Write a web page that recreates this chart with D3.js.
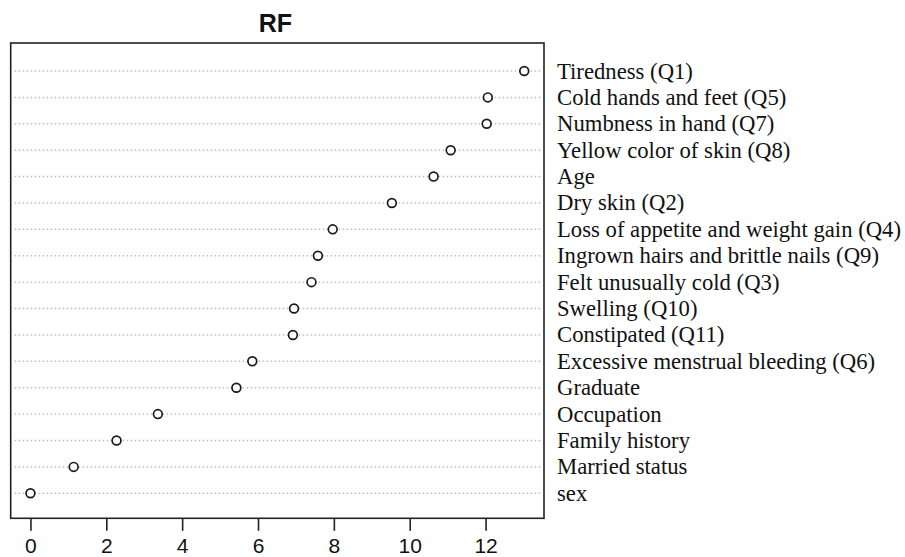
<!DOCTYPE html>
<html>
<head>
<meta charset="utf-8">
<script src="https://cdn.jsdelivr.net/npm/d3@7"></script>
<style>
  body { margin: 0; background: #fff; }
</style>
</head>
<body>
<div id="chart"></div>
<script>
// variable importance, top to bottom as drawn
var labels = [
  'Tiredness (Q1)', 'Cold hands and feet (Q5)', 'Numbness in hand (Q7)',
  'Yellow color of skin (Q8)', 'Age', 'Dry skin (Q2)',
  'Loss of appetite and weight gain (Q4)', 'Ingrown hairs and brittle nails (Q9)',
  'Felt unusually cold (Q3)', 'Swelling (Q10)', 'Constipated (Q11)',
  'Excessive menstrual bleeding (Q6)', 'Graduate', 'Occupation',
  'Family history', 'Married status', 'sex'
];
var importance = [
  13.02, 12.06, 12.03, 11.08, 10.63, 9.53, 7.97, 7.58,
  7.41, 6.95, 6.92, 5.85, 5.43, 3.36, 2.27, 1.14, 0
];
var xTicks = [0, 2, 4, 6, 8, 10, 12];
var title = 'RF';

var width = 905, height = 557;
var box = {left: 10.7, right: 544, top: 43, bottom: 518.3};

var svg = d3.select('#chart')
  .append('svg')
    .attr('width', width)
    .attr('height', height);

// R dotchart style: range padded 4% each side
var xMax = d3.max(importance), xMin = d3.min(importance),
    pad = (xMax - xMin) * 0.04;
var x = d3.scaleLinear()
    .domain([xMin - pad, xMax + pad])
    .range([box.left, box.right]);

var y = d3.scalePoint()
    .domain(labels)
    .range([71, 493.3]);

// row guide lines
svg.append('g')
  .selectAll('line')
  .data(labels)
  .enter()
    .append('line')
      .attr('x1', box.left + 4)
      .attr('x2', box.right - 3)
      .attr('y1', function(d) { return y(d); })
      .attr('y2', function(d) { return y(d); })
      .style('stroke', '#bdbdbd')
      .style('stroke-width', 1.5)
      .style('stroke-dasharray', '1.5,2.5');

// points
svg.append('g')
  .selectAll('circle')
  .data(importance)
  .enter()
    .append('circle')
      .attr('cx', function(d) { return x(d); })
      .attr('cy', function(d, i) { return y(labels[i]); })
      .attr('r', 4.4)
      .style('fill', '#fff')
      .style('stroke', '#1a1a1a')
      .style('stroke-width', 1.7);

// frame
svg.append('rect')
  .attr('x', box.left)
  .attr('y', box.top)
  .attr('width', box.right - box.left)
  .attr('height', box.bottom - box.top)
  .style('fill', 'none')
  .style('stroke', '#222')
  .style('stroke-width', 1.6);

// category labels on the right
svg.append('g')
  .selectAll('text')
  .data(labels)
  .enter()
    .append('text')
      .attr('x', 557)
      .attr('y', function(d) { return y(d) + 7.5; })
      .style('font-family', '"Liberation Serif", "Times New Roman", serif')
      .style('font-size', '22.7px')
      .style('fill', '#111')
      .text(function(d) { return d; });

// x axis
var xAxis = d3.axisBottom(x)
    .tickValues(xTicks)
    .tickSize(12.5)
    .tickPadding(7)
    .tickFormat(d3.format('d'));

var axisG = svg.append('g')
    .attr('transform', 'translate(0,' + box.bottom + ')')
    .call(xAxis);
axisG.select('.domain').remove();
axisG.selectAll('.tick line')
  .style('stroke', '#222')
  .style('stroke-width', 1.6);
axisG.selectAll('.tick text')
  .attr('font-size', null)
  .style('font-family', '"Liberation Sans", Arial, sans-serif')
  .style('font-size', '21px')
  .style('fill', '#111');

// title
svg.append('text')
  .attr('x', (box.left + box.right) / 2 - 2)
  .attr('y', 31.5)
  .attr('text-anchor', 'middle')
  .style('font-family', '"Liberation Sans", Arial, sans-serif')
  .style('font-weight', 'bold')
  .style('font-size', '25px')
  .style('fill', '#111')
  .text(title);
</script>
</body>
</html>
